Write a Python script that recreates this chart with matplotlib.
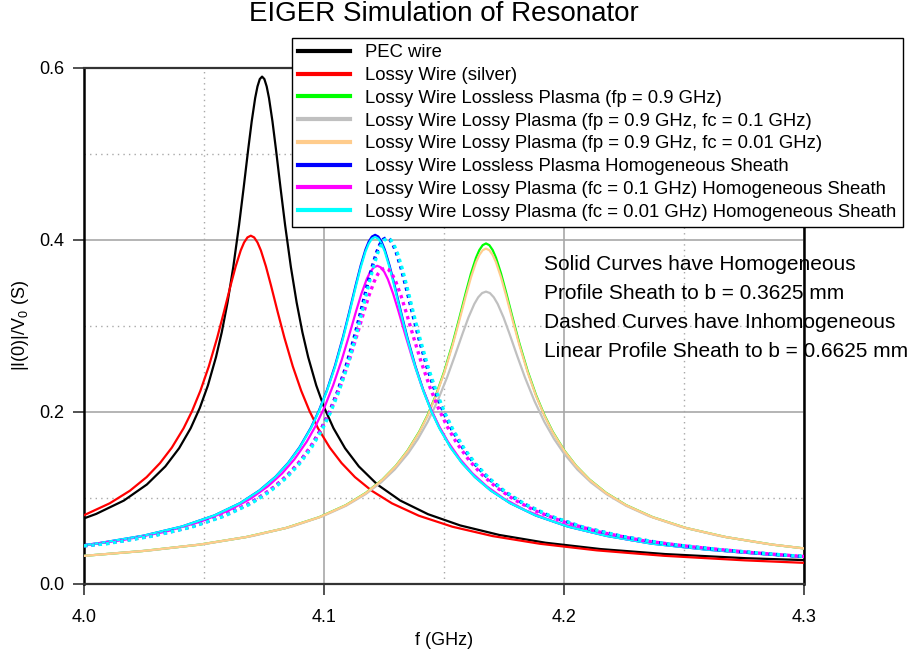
import numpy as np
import matplotlib
matplotlib.use("Agg")
import matplotlib.pyplot as plt
from matplotlib.ticker import MultipleLocator

plt.rcParams['font.family'] = ['Liberation Sans', 'DejaVu Sans']
plt.rcParams['mathtext.fontset'] = 'custom'
plt.rcParams['mathtext.rm'] = 'Liberation Sans'
plt.rcParams['mathtext.it'] = 'Liberation Sans:italic'

# ---- values (f in GHz, |I(0)|/V0 in S) ----
f_pec = [4.0, 4.00508, 4.0166, 4.0262, 4.03388, 4.03964, 4.04444, 4.04828, 4.05164, 4.055,
         4.0574, 4.0598, 4.0622, 4.0646, 4.06652, 4.06844, 4.06988, 4.07132, 4.07228, 4.07324,
         4.0742, 4.07516, 4.07612, 4.07708, 4.07852, 4.07996, 4.08188, 4.0838, 4.0862, 4.0886,
         4.091, 4.0934, 4.09676, 4.10012, 4.10396, 4.10876, 4.11452, 4.1222, 4.1318, 4.14332,
         4.15676, 4.17308, 4.19228, 4.21532, 4.2422, 4.2758, 4.3]
v_pec = [0.0763, 0.0815, 0.0970, 0.1157, 0.1367, 0.1579, 0.1811, 0.2049, 0.2310, 0.2639,
         0.2927, 0.3273, 0.3686, 0.4172, 0.4607, 0.5059, 0.5380, 0.5651, 0.5785, 0.5871,
         0.5900, 0.5871, 0.5785, 0.5651, 0.5380, 0.5059, 0.4607, 0.4172, 0.3686, 0.3273,
         0.2927, 0.2639, 0.2310, 0.2049, 0.1811, 0.1579, 0.1367, 0.1157, 0.0970, 0.0812,
         0.0681, 0.0570, 0.0480, 0.0406, 0.0348, 0.0300, 0.0278]

f_lossy = [4.0, 4.0107, 4.0191, 4.0261, 4.0317, 4.0366, 4.0415, 4.045, 4.0485, 4.052,
           4.0555, 4.0583, 4.0611, 4.0632, 4.0653, 4.0667, 4.0681, 4.0695, 4.0709, 4.0723,
           4.0737, 4.0758, 4.0779, 4.0807, 4.0835, 4.087, 4.0905, 4.094, 4.0975, 4.1024,
           4.1073, 4.1129, 4.1199, 4.1283, 4.1395, 4.1535, 4.1703, 4.1899, 4.2137, 4.2417,
           4.2753, 4.3]
v_lossy = [0.0800, 0.0938, 0.1084, 0.1243, 0.1407, 0.1586, 0.1811, 0.2009, 0.2247, 0.2530,
           0.2864, 0.3163, 0.3473, 0.3693, 0.3879, 0.3971, 0.4030, 0.4050, 0.4030, 0.3971,
           0.3879, 0.3693, 0.3473, 0.3163, 0.2864, 0.2530, 0.2247, 0.2009, 0.1811, 0.1586,
           0.1407, 0.1243, 0.1084, 0.0938, 0.0794, 0.0666, 0.0557, 0.0468, 0.0391, 0.0328,
           0.0275, 0.0246]

f_fp = [4.0, 4.02433, 4.04796, 4.06742, 4.0841, 4.098, 4.10912, 4.11746, 4.12441, 4.12997,
        4.13483, 4.1397, 4.14317, 4.14665, 4.15012, 4.1536, 4.15638, 4.15916, 4.16124, 4.16333,
        4.16472, 4.16611, 4.1675, 4.16889, 4.17028, 4.17167, 4.17376, 4.17584, 4.17862, 4.1814,
        4.18488, 4.18835, 4.19183, 4.1953, 4.20017, 4.20503, 4.21059, 4.21754, 4.22588, 4.237,
        4.2509, 4.26758, 4.28704, 4.3]
v_lossless = [0.0327, 0.0383, 0.0457, 0.0545, 0.0651, 0.0777, 0.0917, 0.1060, 0.1216, 0.1375,
              0.1551, 0.1771, 0.1965, 0.2197, 0.2474, 0.2800, 0.3092, 0.3396, 0.3611, 0.3793,
              0.3883, 0.3940, 0.3960, 0.3940, 0.3883, 0.3793, 0.3611, 0.3396, 0.3092, 0.2800,
              0.2474, 0.2197, 0.1965, 0.1771, 0.1551, 0.1375, 0.1216, 0.1060, 0.0917, 0.0777,
              0.0651, 0.0545, 0.0457, 0.0414]
v_fc001 = [0.0327, 0.0383, 0.0457, 0.0545, 0.0651, 0.0776, 0.0916, 0.1058, 0.1214, 0.1373,
           0.1547, 0.1765, 0.1957, 0.2186, 0.2459, 0.2778, 0.3063, 0.3357, 0.3565, 0.3740,
           0.3826, 0.3881, 0.3900, 0.3881, 0.3826, 0.3740, 0.3565, 0.3357, 0.3063, 0.2778,
           0.2459, 0.2186, 0.1957, 0.1765, 0.1547, 0.1373, 0.1214, 0.1058, 0.0916, 0.0776,
           0.0651, 0.0545, 0.0457, 0.0414]

f_fc01 = [4.0, 4.02818, 4.05086, 4.0703, 4.0865, 4.09946, 4.10918, 4.11728, 4.12376, 4.12943,
          4.1351, 4.13915, 4.1432, 4.14725, 4.1513, 4.15454, 4.15778, 4.16021, 4.16264, 4.16426,
          4.16588, 4.1675, 4.16912, 4.17074, 4.17236, 4.17479, 4.17722, 4.18046, 4.1837, 4.18775,
          4.1918, 4.19585, 4.1999, 4.20557, 4.21124, 4.21772, 4.22582, 4.23554, 4.2485, 4.2647,
          4.28414, 4.3]
v_fc01 = [0.0327, 0.0393, 0.0468, 0.0559, 0.0667, 0.0788, 0.0910, 0.1044, 0.1181, 0.1331,
          0.1521, 0.1687, 0.1886, 0.2124, 0.2404, 0.2655, 0.2915, 0.3101, 0.3257, 0.3334,
          0.3383, 0.3400, 0.3383, 0.3334, 0.3257, 0.3101, 0.2915, 0.2655, 0.2404, 0.2124,
          0.1886, 0.1687, 0.1521, 0.1331, 0.1181, 0.1044, 0.0910, 0.0788, 0.0667, 0.0559,
          0.0468, 0.0413]

f_hom = [4.0, 4.00606, 4.02482, 4.0409, 4.0543, 4.06502, 4.07306, 4.07976, 4.08512, 4.08981,
         4.0945, 4.09785, 4.1012, 4.10455, 4.1079, 4.11058, 4.11326, 4.11527, 4.11728, 4.11862,
         4.11996, 4.1213, 4.12264, 4.12398, 4.12532, 4.12733, 4.12934, 4.13202, 4.1347, 4.13805,
         4.1414, 4.14475, 4.1481, 4.15279, 4.15748, 4.16284, 4.16954, 4.17758, 4.1883, 4.2017,
         4.21778, 4.23654, 4.25932, 4.28612, 4.3]
v_hom_lossless = [0.0452, 0.0474, 0.0562, 0.0669, 0.0797, 0.0940, 0.1087, 0.1246, 0.1410, 0.1590,
                  0.1816, 0.2014, 0.2252, 0.2536, 0.2871, 0.3170, 0.3481, 0.3702, 0.3889, 0.3981,
                  0.4040, 0.4060, 0.4040, 0.3981, 0.3889, 0.3702, 0.3481, 0.3170, 0.2871, 0.2536,
                  0.2252, 0.2014, 0.1816, 0.1590, 0.1410, 0.1246, 0.1087, 0.0940, 0.0796, 0.0667,
                  0.0559, 0.0469, 0.0400, 0.0340, 0.0316]
v_hom_fc001 = [0.0452, 0.0474, 0.0562, 0.0669, 0.0797, 0.0940, 0.1085, 0.1244, 0.1407, 0.1584,
               0.1809, 0.2006, 0.2243, 0.2520, 0.2853, 0.3150, 0.3459, 0.3679, 0.3865, 0.3956,
               0.4015, 0.4035, 0.4015, 0.3956, 0.3865, 0.3679, 0.3459, 0.3150, 0.2853, 0.2520,
               0.2243, 0.2006, 0.1809, 0.1584, 0.1407, 0.1244, 0.1085, 0.0940, 0.0796, 0.0667,
               0.0559, 0.0469, 0.0400, 0.0340, 0.0316]

f_hom_fc01 = [4.0, 4.01636, 4.034, 4.0487, 4.06046, 4.06928, 4.07663, 4.08251, 4.08765, 4.0928,
              4.09647, 4.10015, 4.10382, 4.1075, 4.11044, 4.11338, 4.11558, 4.11779, 4.11926, 4.12073,
              4.1222, 4.12367, 4.12514, 4.12661, 4.12882, 4.13102, 4.13396, 4.1369, 4.14058, 4.14425,
              4.14793, 4.1516, 4.15675, 4.16189, 4.16777, 4.17512, 4.18394, 4.1957, 4.2104, 4.22804,
              4.24862, 4.27361, 4.3]
v_hom_fc01 = [0.0448, 0.0512, 0.0608, 0.0726, 0.0857, 0.0990, 0.1136, 0.1285, 0.1449, 0.1655,
              0.1836, 0.2052, 0.2311, 0.2616, 0.2889, 0.3173, 0.3374, 0.3544, 0.3628, 0.3682,
              0.3700, 0.3682, 0.3628, 0.3544, 0.3374, 0.3173, 0.2889, 0.2616, 0.2311, 0.2052,
              0.1836, 0.1655, 0.1449, 0.1285, 0.1136, 0.0990, 0.0857, 0.0726, 0.0608, 0.0509,
              0.0433, 0.0366, 0.0316]

f_inh = [4.0, 4.00904, 4.02808, 4.0444, 4.058, 4.06888, 4.07704, 4.08384, 4.08928, 4.09404,
         4.0988, 4.1022, 4.1056, 4.109, 4.1124, 4.11512, 4.11784, 4.11988, 4.12192, 4.12328,
         4.12464, 4.126, 4.12736, 4.12872, 4.13008, 4.13212, 4.13416, 4.13688, 4.1396, 4.143,
         4.1464, 4.1498, 4.1532, 4.15796, 4.16272, 4.16816, 4.17496, 4.18312, 4.194, 4.2076,
         4.22392, 4.24296, 4.26608, 4.29328, 4.3]
v_inh_lossless = [0.0445, 0.0470, 0.0558, 0.0662, 0.0790, 0.0933, 0.1078, 0.1236, 0.1399, 0.1577,
                  0.1801, 0.1998, 0.2234, 0.2516, 0.2848, 0.3145, 0.3453, 0.3672, 0.3857, 0.3949,
                  0.4007, 0.4027, 0.4007, 0.3949, 0.3857, 0.3672, 0.3453, 0.3145, 0.2848, 0.2516,
                  0.2234, 0.1998, 0.1801, 0.1577, 0.1399, 0.1236, 0.1078, 0.0933, 0.0790, 0.0662,
                  0.0554, 0.0465, 0.0395, 0.0332, 0.0320]

f_inh_fc001 = [4.0, 4.00954, 4.02858, 4.0449, 4.0585, 4.06938, 4.07754, 4.08434, 4.08978, 4.09454,
               4.0993, 4.1027, 4.1061, 4.1095, 4.1129, 4.11562, 4.11834, 4.12038, 4.12242, 4.12378,
               4.12514, 4.1265, 4.12786, 4.12922, 4.13058, 4.13262, 4.13466, 4.13738, 4.1401, 4.1435,
               4.1469, 4.1503, 4.1537, 4.15846, 4.16322, 4.16866, 4.17546, 4.18362, 4.1945, 4.2081,
               4.22442, 4.24346, 4.26658, 4.29378, 4.3]
v_inh_fc001 = [0.0443, 0.0468, 0.0557, 0.0661, 0.0789, 0.0931, 0.1076, 0.1234, 0.1397, 0.1574,
               0.1798, 0.1995, 0.2230, 0.2512, 0.2843, 0.3140, 0.3447, 0.3666, 0.3850, 0.3942,
               0.4000, 0.4020, 0.4000, 0.3942, 0.3850, 0.3666, 0.3447, 0.3140, 0.2843, 0.2512,
               0.2230, 0.1995, 0.1798, 0.1574, 0.1397, 0.1234, 0.1076, 0.0931, 0.0789, 0.0661,
               0.0553, 0.0464, 0.0395, 0.0332, 0.0322]

f_inh_fc01 = [4.0, 4.01812, 4.036, 4.0509, 4.06282, 4.07176, 4.07921, 4.08517, 4.09038, 4.0956,
              4.09932, 4.10305, 4.10677, 4.1105, 4.11348, 4.11646, 4.11869, 4.12093, 4.12242, 4.12391,
              4.1254, 4.12689, 4.12838, 4.12987, 4.13211, 4.13434, 4.13732, 4.1403, 4.14403, 4.14775,
              4.15148, 4.1552, 4.16042, 4.16563, 4.17159, 4.17904, 4.18798, 4.1999, 4.2148, 4.23268,
              4.25354, 4.27887, 4.3]
v_inh_fc01 = [0.0444, 0.0512, 0.0604, 0.0721, 0.0851, 0.0983, 0.1128, 0.1276, 0.1439, 0.1643,
              0.1823, 0.2038, 0.2295, 0.2598, 0.2869, 0.3150, 0.3350, 0.3519, 0.3603, 0.3656,
              0.3674, 0.3656, 0.3603, 0.3519, 0.3350, 0.3150, 0.2869, 0.2598, 0.2295, 0.2038,
              0.1823, 0.1643, 0.1439, 0.1276, 0.1128, 0.0983, 0.0851, 0.0721, 0.0604, 0.0505,
              0.0432, 0.0364, 0.0320]

labels = ['PEC wire',
          'Lossy Wire (silver)',
          'Lossy Wire Lossless Plasma (fp = 0.9 GHz)',
          'Lossy Wire Lossy Plasma (fp = 0.9 GHz, fc = 0.1 GHz)',
          'Lossy Wire Lossy Plasma (fp = 0.9 GHz, fc = 0.01 GHz)',
          'Lossy Wire Lossless Plasma Homogeneous Sheath',
          'Lossy Wire Lossy Plasma (fc = 0.1 GHz) Homogeneous Sheath',
          'Lossy Wire Lossy Plasma (fc = 0.01 GHz) Homogeneous Sheath']
colors = ['#000000', '#ff0000', '#00ff00', '#c0c0c0', '#ffcc8c', '#0000ff', '#ff00ff', '#00ffff']

notes = ['Solid Curves have Homogeneous',
         'Profile Sheath to b = 0.3625 mm',
         'Dashed Curves have Inhomogeneous',
         'Linear Profile Sheath to b = 0.6625 mm']

fig = plt.figure(figsize=(9.1, 6.54), dpi=100)
ax = fig.add_axes([84 / 910, 70 / 654, 720 / 910, 516 / 654])

solid = [(f_pec, v_pec), (f_lossy, v_lossy),
         (f_fp, v_lossless), (f_fc01, v_fc01), (f_fp, v_fc001),
         (f_hom, v_hom_lossless), (f_hom_fc01, v_hom_fc01), (f_hom, v_hom_fc001)]
handles = []
for (xs, ys), c, lab in zip(solid, colors, labels):
    ln, = ax.plot(xs, ys, color=c, lw=1.6, label=lab, zorder=3)
    handles.append(ln)

dotted = [(f_inh, v_inh_lossless, colors[5]),
          (f_inh_fc01, v_inh_fc01, colors[6]),
          (f_inh_fc001, v_inh_fc001, colors[7])]
for xs, ys, c in dotted:
    ax.plot(xs, ys, color=c, lw=2.4, ls=(0, (1, 1.2)), zorder=4)

ax.set_xlim(4.0, 4.3)
ax.set_ylim(0.0, 0.6)
ax.set_xticks([4.0, 4.1, 4.2, 4.3])
ax.set_xticklabels(['4.0', '4.1', '4.2', '4.3'])
ax.set_yticks([0.0, 0.2, 0.4, 0.6])
ax.set_yticklabels(['0.0', '0.2', '0.4', '0.6'])
ax.xaxis.set_minor_locator(MultipleLocator(0.05))
ax.yaxis.set_minor_locator(MultipleLocator(0.1))
ax.grid(which='major', color='#a8a8a8', lw=1.2, ls='-')
ax.grid(which='minor', color='#a8a8a8', lw=1.0, ls=(0, (1, 3)))
ax.tick_params(which='major', direction='out', length=8, width=1.2, color='#333333',
               labelsize=13)
ax.tick_params(axis='x', which='major', pad=10)
ax.tick_params(axis='y', which='major', pad=6)
ax.tick_params(which='minor', length=0)
for s in ['left', 'right']:
    ax.spines[s].set_color('black')
    ax.spines[s].set_linewidth(1.8)
for s in ['top', 'bottom']:
    ax.spines[s].set_color('#333333')
    ax.spines[s].set_linewidth(1.6)

ax.set_xlabel('f (GHz)', fontsize=13, labelpad=4)
ax.set_ylabel('|I(0)|/V$_0$ (S)', fontsize=13, labelpad=6)
ax.set_title('EIGER Simulation of Resonator', fontsize=20, pad=34)

for i, t in enumerate(notes):
    ax.text(4.1917, 0.372 - i * 0.0337, t, fontsize=15, va='center', ha='left',
            zorder=2, clip_on=False)

leg = fig.legend(handles=handles, loc='upper left', bbox_to_anchor=(292 / 910, 1 - 38 / 654),
                 fontsize=13.3, frameon=True, fancybox=False, framealpha=1,
                 edgecolor='black', borderpad=0.35, labelspacing=0.31,
                 handlelength=2.8, handletextpad=0.8, borderaxespad=0)
leg.get_frame().set_linewidth(1.0)
for ln in leg.get_lines():
    ln.set_linewidth(3.0)

fig.savefig('out.png', dpi=100)
